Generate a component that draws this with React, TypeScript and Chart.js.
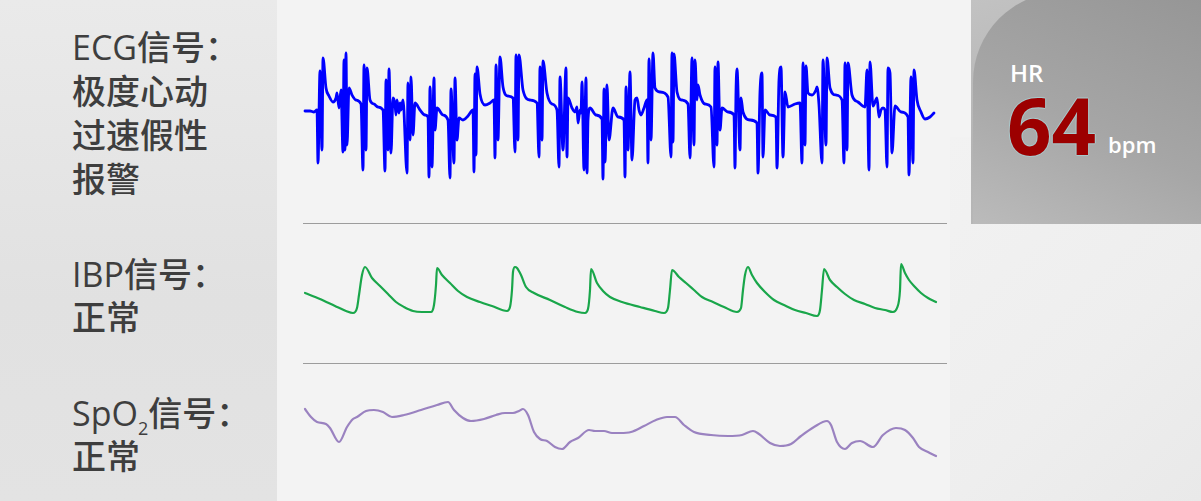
import React, { useEffect, useRef } from "react";
import { Chart, registerables } from "chart.js";

Chart.register(...registerables);

// ECG trace (time units, amplitude units)
const ecgT = [5,10,14,17, 18,20,22,23,26,29,33,36,37,39,41, 43,44,45,46,47,49,52,56,61, 63,64,66,67,70,74,78,83, 85,86,88,89,91,93,95,96,97,99,100,101,103, 107,108,110,111,113,115,120,125,128, 129,130,132,134,135,137,143,148, 150,151,154,155,157,159,163,168,173, 174,175,176,177,180,185,190,194, 195,196,198,200,203,208,213, 215,216,218,219,223,230,237, 239,240,242,243,247,252,257, 259,260,263,266,267,268,272,275,277,278,280,281, 282,284,286,287,288,290,296,302, 303,304,305,307,309,313,318,324, 325,326,328,330,332,335,337,339,341,344,347, 348,349,351,353,355,360,368, 371,372,373,374,377,382,388, 390,392,394,395,397,398,400,405,411, 414,415,417,418,420,422,428,434, 435,436,437,440,441,443,450,457, 458,460,462,463,465,470,476, 477,479,481,483,485,488,495,500, 502,503,505,506,508,512,516,517,519, 522,523,526,527,530,536,542, 544,545,547,548,552,558,565, 567,569,570,573,577,579,581,583,585, 587,588,590,592,595,601,608, 609,611,613,614,617,621,625,630,634];
const ecgV = [79,79,78,80, 27,119,40,132,102,94,88,92,97,82,100, 38,130,40,137,45,102,95,90,86, 20,125,40,122,90,86,83,80, 19,110,40,121,37,92,86,75,90,77,87,80,90, 17,107,50,113,55,87,80,75,73, 13,103,23,112,60,82,75,70, 12,101,27,112,50,72,70,74,80, 18,116,35,123,96,85,87,90, 32,125,50,133,103,94,92, 38,135,50,135,100,90,87, 33,123,50,129,97,86,80, 23,113,40,122,33,92,82,78,83,67,80,77, 108,20,112,17,70,82,75,71, 11,101,28,105,50,82,73,70, 13,103,40,118,30,90,92,80,75,82,90, 27,131,50,137,102,98,93, 33,137,48,136,98,90,86, 32,132,45,130,90,105,95,86,83, 23,123,45,128,60,82,78,75, 22,98,121,40,92,78,70,67, 17,98,117,33,80,75,73, 22,110,123,33,98,83,86,87, 27,127,45,124,97,95,100,103,85, 27,130,45,132,102,95,90, 27,127,40,127,95,88,83, 120,20,128,84,92,73,80,82,80, 23,122,117,37,84,78,73, 15,113,27,120,90,78,71,73,77];

// IBP trace
const ibpT = [5,20,35,46,53,57,59,62,65,72,80,88,96,104,113,122,131,134,136,137,142,150,158,167,180,192,207,210,212,213,215,217,221,226,234,250,265,278,285,288,290,291,297,303,310,322,340,355,364,368,370,372,379,386,394,402,413,424,437,441,443,445,448,452,457,465,474,484,495,506,517,520,522,524,530,537,545,554,565,575,585,593,597,600,601,605,609,615,621,628,636];
const ibpV = [37,31,24,19,17,22,35,55,63,52,44,36,28,23,19,18,18,25,45,62,55,47,39,33,28,24,19,23,40,58,63,62,55,43,37,30,23,18,17,21,40,61,47,39,33,28,23,19,17,22,40,60,53,47,40,33,28,23,18,22,40,55,63,55,47,38,30,25,20,17,14,20,40,61,50,43,36,30,26,22,20,18,22,40,66,57,50,43,37,32,28];

// SpO2 trace
const spoT = [5,11,17,26,30,39,47,53,57,66,74,83,92,104,121,137,148,154,163,171,184,196,205,213,219,223,228,234,240,247,255,262,270,278,289,295,304,312,320,331,344,356,367,375,384,394,411,428,442,453,459,470,480,491,501,514,527,531,537,545,552,560,573,583,596,605,613,619,628,636];
const spoV = [61,53,48,46,42,28,43,51,53,59,60,58,53,55,60,65,68,60,52,49,51,55,57,57,59,61,55,38,31,29,23,21,28,32,40,39,39,37,37,38,44,50,53,53,45,38,35,34,35,39,36,27,24,26,34,43,49,45,28,21,27,29,23,35,42,40,32,23,18,14];

const heartRate = "64";

type TraceProps = {
  t: number[]; v: number[]; color: string; lw: number; yMax: number;
  left: number; top: number; w: number; h: number;
};

function Trace({ t, v, color, lw, yMax, left, top, w, h }: TraceProps) {
  const ref = useRef<HTMLCanvasElement>(null);
  useEffect(() => {
    const chart = new Chart(ref.current as HTMLCanvasElement, {
      type: "line",
      data: {
        datasets: [
          {
            data: t.map((x, i) => ({ x, y: v[i] })),
            borderColor: color,
            borderWidth: lw,
            pointRadius: 0,
            cubicInterpolationMode: "monotone",
            borderJoinStyle: "round",
            borderCapStyle: "round",
            fill: false,
          } as any,
        ],
      },
      options: {
        responsive: false,
        maintainAspectRatio: false,
        animation: false,
        events: [],
        layout: { padding: 0 },
        plugins: { legend: { display: false }, tooltip: { enabled: false } },
        scales: {
          x: { type: "linear", display: false, min: 0, max: 650 },
          y: { type: "linear", display: false, min: 0, max: yMax },
        },
      },
    });
    return () => chart.destroy();
  }, []);
  return (
    <canvas
      ref={ref}
      width={w}
      height={h}
      style={{ position: "absolute", left, top, width: w, height: h }}
    />
  );
}

const labelFont = '"Open Sans", "Noto Sans CJK SC", sans-serif';

function Line({ top, children }: { top: number; children: React.ReactNode }) {
  return (
    <div
      style={{
        position: "absolute",
        left: 72,
        top,
        fontFamily: labelFont,
        fontSize: 34,
        lineHeight: "44px",
        fontWeight: 500,
        color: "#3e3e3e",
        whiteSpace: "nowrap",
      }}
    >
      {children}
    </div>
  );
}

export default function App() {
  return (
    <div
      style={{
        position: "fixed",
        left: 0,
        top: 0,
        width: 1201,
        height: 501,
        overflow: "hidden",
        background: "#f3f3f3",
      }}
    >
      {/* left panel */}
      <div
        style={{
          position: "absolute",
          left: 0,
          top: 0,
          width: 277,
          height: 501,
          background: "linear-gradient(to bottom, #eaeaea, #e1e1e1 60%, #e3e3e3)",
        }}
      />
      {/* right lower shading */}
      <div
        style={{
          position: "absolute",
          left: 950,
          top: 137,
          width: 251,
          height: 364,
          background: "linear-gradient(135deg, #f2f2f2, #eeeeee 60%, #e9e9e9)",
        }}
      />

      {/* labels */}
      <Line top={25}>ECG信号：</Line>
      <Line top={69}>极度心动</Line>
      <Line top={113}>过速假性</Line>
      <Line top={157}>报警</Line>
      <Line top={252}>IBP信号：</Line>
      <Line top={295}>正常</Line>
      <Line top={391}>
        SpO
        <span style={{ fontSize: 18, position: "relative", top: 9 }}>2</span>
        信号：
      </Line>
      <Line top={434}>正常</Line>

      {/* separators */}
      <div style={{ position: "absolute", left: 303, top: 223, width: 644, height: 1, background: "#9c9c9c" }} />
      <div style={{ position: "absolute", left: 303, top: 363, width: 644, height: 1, background: "#9c9c9c" }} />

      {/* traces */}
      <Trace t={ecgT} v={ecgV} color="#0000ff" lw={2.8} yMax={150} left={300} top={40} w={650} h={150} />
      <Trace t={ibpT} v={ibpV} color="#19a64a" lw={2.2} yMax={80} left={300} top={250} w={650} h={80} />
      <Trace t={spoT} v={spoV} color="#9a82c0" lw={2.2} yMax={80} left={300} top={390} w={650} h={80} />

      {/* HR box */}
      <div
        style={{
          position: "absolute",
          left: 971,
          top: 0,
          width: 230,
          height: 224,
          overflow: "hidden",
          background: "linear-gradient(160deg, #c2c2c2, #b4b4b4 50%, #bababa)",
        }}
      >
        <div
          style={{
            position: "absolute",
            left: 2,
            top: -8,
            width: 240,
            height: 240,
            borderTopLeftRadius: 90,
            background: "linear-gradient(205deg, #959595 0%, #a6a6a6 55%, #bcbcbc 100%)",
          }}
        />
      </div>
      <div
        style={{
          position: "absolute",
          left: 1010,
          top: 61,
          fontFamily: '"Open Sans", sans-serif',
          fontWeight: 600,
          fontSize: 24,
          lineHeight: 1,
          color: "#ffffff",
        }}
      >
        HR
      </div>
      <div
        style={{
          position: "absolute",
          left: 1007,
          top: 86,
          fontFamily: '"Open Sans", sans-serif',
          fontWeight: 700,
          fontSize: 78,
          lineHeight: 1,
          color: "#9c0000",
          textShadow:
            "1px 0 0 #a9c9cb, -1px 0 0 #a9c9cb, 0 1px 0 #a9c9cb, 0 -1px 0 #a9c9cb",
        }}
      >
        {heartRate}
      </div>
      <div
        style={{
          position: "absolute",
          left: 1108,
          top: 133,
          fontFamily: '"Open Sans", sans-serif',
          fontWeight: 600,
          fontSize: 22,
          lineHeight: 1,
          color: "#ffffff",
        }}
      >
        bpm
      </div>
    </div>
  );
}
